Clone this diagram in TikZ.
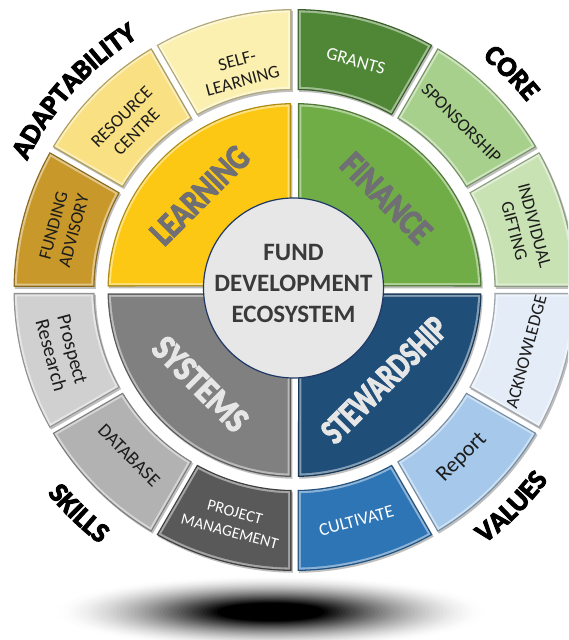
\documentclass[tikz,border=0pt]{standalone}
\usepackage{fontspec}
\setmainfont{Carlito}
\newfontfamily\heavyfont{Carlito}[BoldFeatures={FakeBold=3.5}]
\usetikzlibrary{decorations.text}

% quadrant and tile colours
\definecolor{cLearn}{HTML}{FCC814}
\definecolor{cFund}{HTML}{C8982A}
\definecolor{cRes}{HTML}{F9E082}
\definecolor{cSelf}{HTML}{FBF0AF}
\definecolor{cFin}{HTML}{70AD47}
\definecolor{cGrant}{HTML}{508737}
\definecolor{cSpons}{HTML}{A8D08D}
\definecolor{cGift}{HTML}{C8E2B4}
\definecolor{cStew}{HTML}{1F4E79}
\definecolor{cAck}{HTML}{E4ECF7}
\definecolor{cRep}{HTML}{A5C8EB}
\definecolor{cCult}{HTML}{2E75B6}
\definecolor{cSys}{HTML}{808080}
\definecolor{cProsp}{HTML}{D0D0D0}
\definecolor{cData}{HTML}{B2B2B2}
\definecolor{cProj}{HTML}{595959}
\definecolor{hubFill}{HTML}{E7E7E7}
\definecolor{hubLine}{HTML}{1F3864}
\definecolor{hubText}{HTML}{3A3A3A}
\definecolor{txtDark}{HTML}{1C1C1C}
\definecolor{labGray}{HTML}{6F6F74}
\definecolor{labLight}{HTML}{E6E6E6}

% annular sector with parallel-sided gaps:
% #1 inner radius, #2 outer radius, #3/#4 start/end angle, #5 half gap, #6 path options
\newcommand\annseg[6]{%
  \pgfmathsetmacro\segRin{#1}\pgfmathsetmacro\segRout{#2}\pgfmathsetmacro\segHg{#5}%
  \pgfmathsetmacro\sOa{#3+asin(\segHg/\segRout)}%
  \pgfmathsetmacro\sOb{#4-asin(\segHg/\segRout)}%
  \pgfmathsetmacro\sIa{#3+asin(\segHg/\segRin)}%
  \pgfmathsetmacro\sIb{#4-asin(\segHg/\segRin)}%
  \path[#6] (\sOa:\segRout pt) arc[start angle=\sOa, end angle=\sOb, radius=\segRout pt]
    -- (\sIb:\segRin pt) arc[start angle=\sIb, end angle=\sIa, radius=\segRin pt] -- cycle;%
}
% soft drop shadow under a tile
\newcommand\segshadow[5]{%
  \annseg{#1}{#2}{#3}{#4}{#5}{fill=black!25, shift={(1.3,-1.8)}}%
}
% bevelled tile: dark rim, light rim, face
\newcommand\bevelseg[6]{%
  \annseg{#1}{#2}{#3}{#4}{#5}{fill=#6!70!black}%
  \annseg{#1+1.3}{#2-1.3}{#3}{#4}{#5+1.3}{fill=#6!55!white}%
  \annseg{#1+3.4}{#2-3.4}{#3}{#4}{#5+3.4}{fill=#6}%
}

\def\innerlist{90/cLearn,0/cFin,270/cStew,180/cSys}
\def\outerlist{0/cGift,30/cSpons,60/cGrant,90/cSelf,120/cRes,150/cFund,180/cProsp,210/cData,240/cProj,270/cCult,300/cRep,330/cAck}

\newcommand\cornerfont{\heavyfont\fontsize{28}{28}\selectfont\bfseries}

\begin{document}
\begin{tikzpicture}[x=1pt,y=1pt,
  outtxt/.style={font=\fontsize{18}{21}\selectfont, align=center, inner sep=0pt, text=txtDark},
  intxt/.style={font=\heavyfont\fontsize{36}{36}\selectfont\bfseries, inner sep=0pt},
  hub/.style={circle, minimum size=180pt, inner sep=0pt, fill=hubFill, draw=hubLine, line width=1.2pt},
  hubtxt/.style={font=\fontsize{25}{31}\selectfont\bfseries, align=center, inner sep=0pt, text=hubText}]
\useasboundingbox (0,0) rectangle (568,640);
\clip (0,0) rectangle (568,640);
\fill[white] (0,0) rectangle (568,640);

% shadow on the floor: stacked ellipses darkening towards the middle
\foreach \i in {0,...,59}{
  \pgfmathsetmacro\sht{1-\i/60}
  \pgfmathsetmacro\shd{100*min(1,(max(0.001,1-\sht)/0.75)^1.6)}
  \pgfmathsetmacro\shx{216*\sht}
  \pgfmathsetmacro\shy{36*\sht}
  \fill[black!\shd] (271,28) ellipse [x radius=\shx pt, y radius=\shy pt];
}

\begin{scope}[shift={(294.5,350)}]
  % tile shadows first, then the tiles
  \foreach \a/\c in \innerlist {\segshadow{60}{187}{\a}{\a+90}{3.5}}
  \foreach \a/\c in \outerlist {\segshadow{200}{281}{\a}{\a+30}{3}}
  \foreach \a/\c in \innerlist {\bevelseg{60}{187}{\a}{\a+90}{3.5}{\c}}
  \foreach \a/\c in \outerlist {\bevelseg{200}{281}{\a}{\a+30}{3}{\c}}

  % hub
  \node[hub] (hub) at (-1,2) {};
  \node[hubtxt] (hubtext) at (-1,7) {FUND\\DEVELOPMENT\\ECOSYSTEM};

  % quadrant labels
  \node[intxt, text=labGray, rotate=45] (learning) at (135:134pt) {\scalebox{0.8}[1]{LEARNING}};
  \node[intxt, text=labGray, rotate=-45] (finance) at (45:130pt) {\scalebox{0.85}[1]{FINANCE}};
  \node[intxt, text=labLight, rotate=-45] (systems) at (225:133pt) {\scalebox{0.88}[1]{SYSTEMS}};
  \node[intxt, text=labLight, rotate=45] (stewardship) at (-45:127pt) {\scalebox{0.75}[1]{STEWARDSHIP}};

  % tile labels
  \node[outtxt, rotate=75] (funding) at (165:239pt) {FUNDING\\ADVISORY};
  \node[outtxt, rotate=45] (resource) at (135:234pt) {RESOURCE\\CENTRE};
  \node[outtxt, rotate=15] (selflearn) at (104:226pt) {SELF-\\LEARNING};
  \node[outtxt, text=white, rotate=-15] (grants) at (75:237pt) {GRANTS};
  \node[outtxt, rotate=-45] (sponsor) at (45:236pt) {SPONSORSHIP};
  \node[outtxt, rotate=-75] (gifting) at (15:238pt) {INDIVIDUAL\\GIFTING};
  \node[outtxt, rotate=75] (acknowledge) at (-15:240pt) {ACKNOWLEDGE};
  \node[outtxt, font=\fontsize{22}{24}\selectfont, rotate=45] (report) at (-45:237pt) {Report};
  \node[outtxt, text=white, rotate=15] (cultivate) at (-75:239pt) {CULTIVATE};
  \node[outtxt, text=white, font=\fontsize{16}{20}\selectfont, rotate=-15] (project) at (-105:240pt) {PROJECT\\MANAGEMENT};
  \node[outtxt, font=\fontsize{19}{21}\selectfont, rotate=-45] (database) at (-135:234pt) {DATABASE};
  \node[outtxt, font=\fontsize{20}{22}\selectfont, rotate=-75] (prospect) at (-165:241pt) {Prospect\\Research};

  % value words around the rim
  \path[decorate, decoration={text along path, text align=center, text={|\cornerfont|ADAPTABILITY}}]
    (168:297pt) arc[start angle=168, end angle=108, radius=297pt];
  \path[decorate, decoration={text along path, text align=center, text={|\cornerfont|CORE}}]
    (75:299pt) arc[start angle=75, end angle=15, radius=299pt];
  \path[decorate, decoration={text along path, text align=center, text={|\cornerfont|SKILLS}}]
    (196:320pt) arc[start angle=196, end angle=256, radius=320pt];
  \path[decorate, decoration={text along path, text align=center, text={|\cornerfont|VALUES}}]
    (285:317pt) arc[start angle=285, end angle=345, radius=317pt];
\end{scope}
\end{tikzpicture}
\end{document}
